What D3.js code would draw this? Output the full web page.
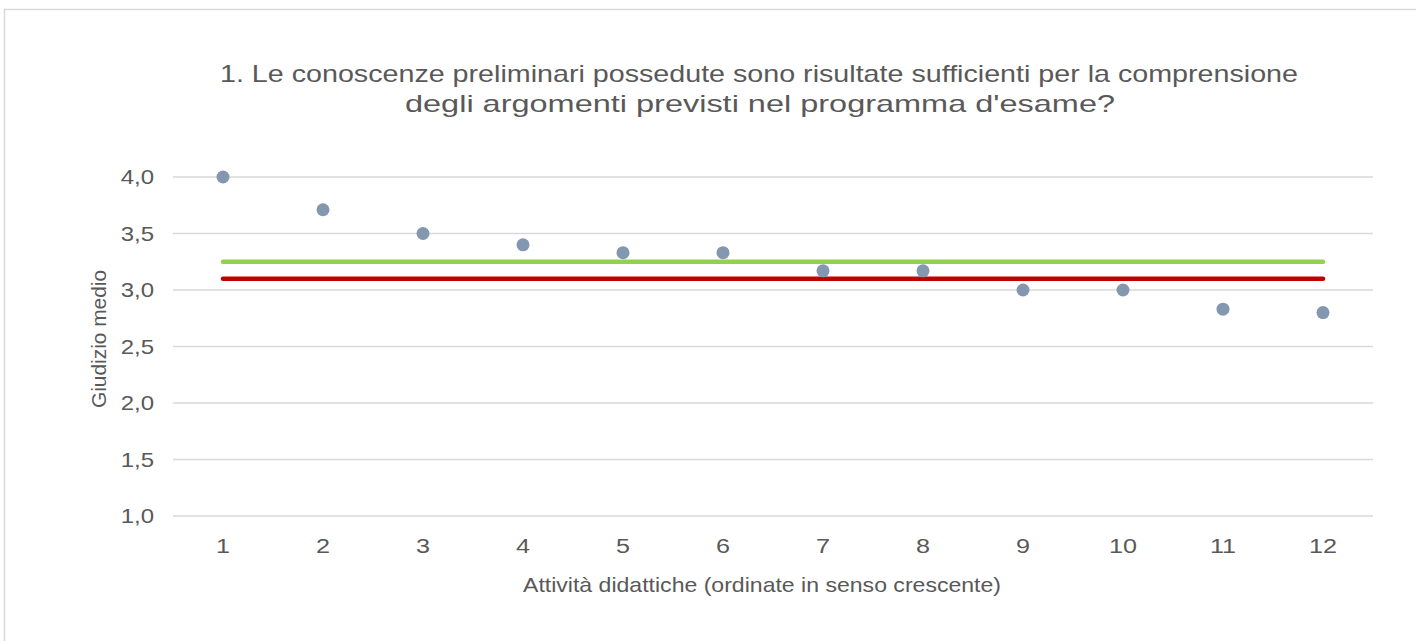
<!DOCTYPE html>
<html><head><meta charset="utf-8">
<script src="https://cdn.jsdelivr.net/npm/d3@7"></script>
<style>body{margin:0;background:#fff;} svg{display:block;font-family:"Liberation Sans",Arial,sans-serif;}</style>
</head><body>
<svg id="c" width="1416" height="641"></svg>
<script>
const categories = [1,2,3,4,5,6,7,8,9,10,11,12];
const values = [4.0,3.71,3.5,3.4,3.33,3.33,3.17,3.17,3.0,3.0,2.83,2.8];
const greenLine = 3.25;
const redLine = 3.1;
const yTicks = [1.0,1.5,2.0,2.5,3.0,3.5,4.0];
const titleLines = ["1. Le conoscenze preliminari possedute sono risultate sufficienti per la comprensione","degli argomenti previsti nel programma d'esame?"];
const xTitle = "Attività didattiche (ordinate in senso crescente)";
const yTitle = "Giudizio medio";

const svg = d3.select("#c");
svg.append("rect").attr("x",4.5).attr("y",9.5).attr("width",1430).attr("height",660)
  .attr("fill","#fff").attr("stroke","#d9d9d9").attr("stroke-width",1.5);

const L=173, R=1373, T=177, B=516;
const x = d3.scaleBand().domain(categories).range([L,R]);
const y = d3.scaleLinear().domain([1,4]).range([B,T]);
const cx = d => x(d)+x.bandwidth()/2;
const SX = 1.2;

svg.append("g").selectAll("line").data(yTicks).join("line")
  .attr("x1",L).attr("x2",R).attr("y1",d=>y(d)).attr("y2",d=>y(d))
  .attr("stroke","#d9d9d9").attr("stroke-width",1.3);

const fmt = d => d3.format(".1f")(d).replace(".",",");
svg.append("g").selectAll("text").data(yTicks).join("text")
  .attr("transform",d=>`translate(154,${y(d)+7}) scale(${SX},1)`).attr("text-anchor","end")
  .attr("font-size",20).attr("fill","#595959").text(fmt);

svg.append("g").selectAll("text").data(categories).join("text")
  .attr("transform",d=>`translate(${cx(d)},553) scale(${SX},1)`).attr("text-anchor","middle")
  .attr("font-size",21).attr("fill","#595959").text(d=>d);

[[greenLine,"#92d050"],[redLine,"#c00000"]].forEach(([v,c])=>{
  svg.append("line").attr("x1",cx(categories[0])).attr("x2",cx(categories[categories.length-1]))
    .attr("y1",y(v)).attr("y2",y(v)).attr("stroke",c).attr("stroke-width",4.5).attr("stroke-linecap","round");
});

svg.append("g").selectAll("circle").data(values).join("circle")
  .attr("cx",(d,i)=>cx(categories[i])).attr("cy",d=>y(d)).attr("r",6.5).attr("fill","#8497b0");

const tl = [1078, 710], tc = [759, 760], tb = [82, 112];
titleLines.forEach((t,i)=>{
  svg.append("text").attr("x",tc[i]-tl[i]/2).attr("y",tb[i])
    .attr("textLength",tl[i]).attr("lengthAdjust","spacingAndGlyphs")
    .attr("font-size",24).attr("fill","#595959").text(t);
});

svg.append("text").attr("x",523).attr("y",592).attr("textLength",478).attr("lengthAdjust","spacingAndGlyphs")
  .attr("font-size",21).attr("fill","#595959").text(xTitle);

svg.append("text").attr("transform","translate(106,408) rotate(-90)")
  .attr("textLength",138).attr("lengthAdjust","spacingAndGlyphs")
  .attr("font-size",21).attr("fill","#595959").text(yTitle);
</script>
</body></html>
